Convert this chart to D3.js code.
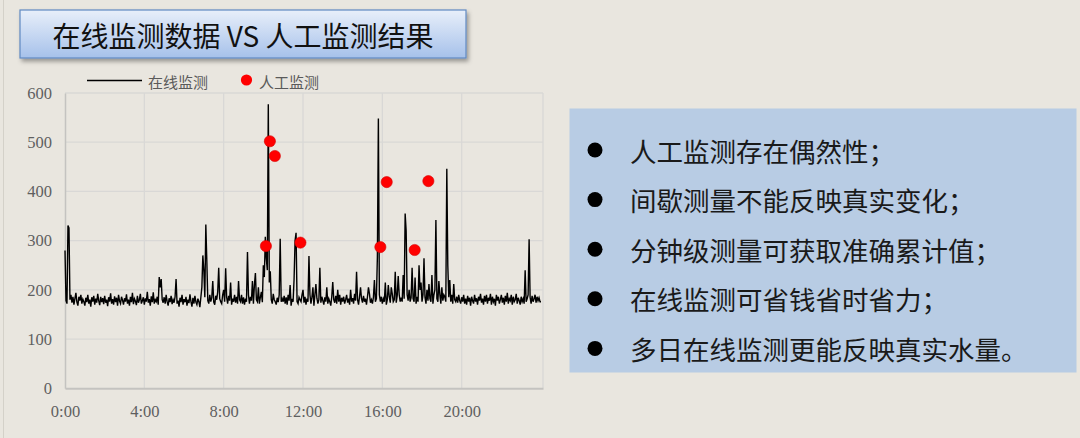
<!DOCTYPE html>
<html>
<head>
<meta charset="utf-8">
<script src="https://cdn.jsdelivr.net/npm/d3@7/dist/d3.min.js"></script>
<style>
  html, body { margin: 0; padding: 0; background: #e9e6df; }
  svg { display: block; }
</style>
</head>
<body>
<svg id="chart" width="1080" height="438"></svg>
<script>
// ---------- data ----------
const titleText = "在线监测数据 VS 人工监测结果";
const legendLabels = ["在线监测", "人工监测"];
const onlineStepHours = 0.05; // one reading every 3 minutes
const onlineValues = [
  280,178,172,331,326,180,190,174,186,170,182,194,175,168,186,178,190,172,181,176,
  168,184,175,190,172,180,166,185,176,188,170,182,174,192,178,169,186,175,183,171,
  188,174,180,167,185,176,193,172,181,170,187,175,184,168,190,177,172,186,179,170,
  183,176,191,172,180,168,186,175,194,171,182,177,169,188,174,180,192,172,178,185,
  170,183,176,196,174,181,168,187,175,195,172,180,176,186,170,226,205,222,180,174,
  185,172,190,176,168,183,175,188,171,180,174,186,222,172,178,166,184,175,190,170,
  181,175,186,168,180,173,191,176,166,184,172,188,175,170,182,176,165,185,205,270,
  240,185,333,260,178,172,190,176,184,218,175,170,188,180,196,245,182,176,172,190,
  200,176,244,185,172,188,178,215,170,182,176,190,174,186,172,218,180,176,190,172,
  185,170,182,176,277,190,172,186,178,218,172,210,234,180,176,205,172,185,196,175,
  250,226,308,264,240,577,215,238,180,172,192,180,176,170,184,175,190,304,176,182,
  176,188,172,185,170,190,178,210,168,182,176,222,300,316,176,172,185,180,176,190,
  200,174,186,170,182,176,269,190,172,185,205,168,190,212,183,172,180,245,174,186,
  178,170,185,176,205,172,182,176,168,186,216,180,174,188,172,200,176,190,170,184,
  176,186,172,180,190,174,182,170,200,176,183,172,192,178,237,180,170,186,205,182,
  174,188,176,182,170,186,205,192,174,180,172,185,220,176,182,267,548,190,176,186,
  172,182,176,215,170,180,210,186,174,205,192,176,180,237,174,188,228,190,176,184,
  176,230,182,355,320,190,178,200,176,184,245,182,176,225,172,186,176,250,200,215,
  176,190,264,185,172,200,178,212,182,176,230,172,190,200,342,182,176,218,190,172,
  205,178,190,186,176,446,250,185,220,176,190,172,212,180,176,186,174,190,178,172,
  185,176,190,172,182,170,188,176,184,168,186,178,172,190,176,183,170,186,178,192,
  174,182,170,188,176,190,172,184,178,192,170,186,176,182,168,190,178,186,172,180,
  190,174,184,170,188,176,194,172,182,178,190,170,186,176,180,192,172,184,178,170,
  186,176,182,172,240,176,182,190,303,185,172,188,176,182,190,174,186,178,184,176,
  176
];
const manualTimes  = [10.13, 10.33, 10.58, 11.87, 15.9, 16.22, 17.63, 18.32];
const manualValues = [289, 502, 472, 296, 287, 419, 281, 421];
const xTickHours  = [0, 4, 8, 12, 16, 20];
const xTickLabels = ["0:00", "4:00", "8:00", "12:00", "16:00", "20:00"];
const yTicks = [0, 100, 200, 300, 400, 500, 600];
const bulletLines = [
  "人工监测存在偶然性；",
  "间歇测量不能反映真实变化；",
  "分钟级测量可获取准确累计值；",
  "在线监测可省钱省时省力；",
  "多日在线监测更能反映真实水量。"
];

// ---------- drawing ----------
const svg = d3.select("#chart");
const defs = svg.append("defs");

const grad = defs.append("linearGradient").attr("id", "titleGrad")
  .attr("x1", 0).attr("y1", 0).attr("x2", 0).attr("y2", 1);
grad.append("stop").attr("offset", "0%").attr("stop-color", "#e8effa");
grad.append("stop").attr("offset", "100%").attr("stop-color", "#a6c1ea");

const shadow = defs.append("filter").attr("id", "shadow")
  .attr("x", "-5%").attr("y", "-20%").attr("width", "115%").attr("height", "150%");
shadow.append("feDropShadow").attr("dx", 2).attr("dy", 3).attr("stdDeviation", 2)
  .attr("flood-color", "#000").attr("flood-opacity", 0.35);

// left slide edge
svg.append("line").attr("x1", 3.5).attr("x2", 3.5).attr("y1", 0).attr("y2", 438)
  .attr("stroke", "#d4d1c9").attr("stroke-width", 1);

// title box
svg.append("rect").attr("x", 20).attr("y", 10).attr("width", 446).attr("height", 48)
  .attr("fill", "url(#titleGrad)").attr("stroke", "#5f89c2").attr("stroke-width", 1.2)
  .attr("filter", "url(#shadow)");
svg.append("text").attr("x", 243).attr("y", 35)
  .attr("text-anchor", "middle").attr("dominant-baseline", "central")
  .style("font-family", "'Noto Sans CJK SC', 'Noto Sans', sans-serif")
  .attr("font-size", 28).attr("fill", "#111").text(titleText);

// scales
const x = d3.scaleLinear().domain([0, 24.1]).range([65, 543]);
const y = d3.scaleLinear().domain([0, 600]).range([388.3, 93]);

// grid
const grid = svg.append("g");
grid.selectAll("line.h").data(yTicks.filter(d => d > 0)).join("line")
  .attr("x1", x(0)).attr("x2", x(24.1))
  .attr("y1", d => y(d)).attr("y2", d => y(d))
  .attr("stroke", "#d9d8d6").attr("stroke-width", 1.3);
grid.selectAll("line.v").data(xTickHours.filter(d => d > 0).concat([24.1])).join("line")
  .attr("x1", d => x(d)).attr("x2", d => x(d))
  .attr("y1", y(0)).attr("y2", y(600))
  .attr("stroke", "#d9d8d6").attr("stroke-width", 1.3);

// axes
const yAxis = svg.append("g").attr("transform", `translate(${x(0)},0)`)
  .call(d3.axisLeft(y).tickValues(yTicks).tickSize(0).tickPadding(13));
yAxis.select(".domain").attr("stroke", "#c4c3c0").attr("stroke-width", 1.5);
yAxis.selectAll("text").style("font-family", "'Liberation Serif', 'DejaVu Serif', serif")
  .style("font-size", "16.5px").attr("fill", "#5f5f5f");

const xAxis = svg.append("g").attr("transform", `translate(0,${y(0)})`)
  .call(d3.axisBottom(x).tickValues(xTickHours).tickFormat((d, i) => xTickLabels[i])
    .tickSize(0).tickPadding(17));
xAxis.select(".domain").attr("stroke", "#c4c3c0").attr("stroke-width", 2);
xAxis.selectAll("text").style("font-family", "'Liberation Serif', 'DejaVu Serif', serif")
  .style("font-size", "16.5px").attr("fill", "#5f5f5f");

// online line
const line = d3.line().x((d, i) => x(i * onlineStepHours)).y(d => y(d));
svg.append("path").datum(onlineValues).attr("d", line)
  .attr("fill", "none").attr("stroke", "#000").attr("stroke-width", 1.4)
  .attr("stroke-linejoin", "miter");

// manual points
svg.append("g").selectAll("circle").data(manualValues).join("circle")
  .attr("cx", (d, i) => x(manualTimes[i])).attr("cy", d => y(d)).attr("r", 5.6)
  .attr("fill", "#ff0000").attr("stroke", "#d80000").attr("stroke-width", 0.6);

// legend
const lg = svg.append("g").style("font-family", "'Noto Sans CJK SC', sans-serif")
  .style("font-size", "15px").attr("fill", "#5a5a5a");
lg.append("line").attr("x1", 87).attr("x2", 142).attr("y1", 80.5).attr("y2", 80.5)
  .attr("stroke", "#000").attr("stroke-width", 1.5);
lg.append("text").attr("x", 148).attr("y", 81).attr("dominant-baseline", "central").text(legendLabels[0]);
lg.append("circle").attr("cx", 246.5).attr("cy", 80).attr("r", 5.6).attr("fill", "#ff0000");
lg.append("text").attr("x", 259).attr("y", 81).attr("dominant-baseline", "central").text(legendLabels[1]);

// right text box
svg.append("rect").attr("x", 569.5).attr("y", 108.5).attr("width", 507).attr("height", 264)
  .attr("fill", "#b8cce4");
const bl = svg.append("g");
bl.selectAll("circle").data(bulletLines).join("circle")
  .attr("cx", 595).attr("cy", (d, i) => 150 + i * 49.6).attr("r", 7.5).attr("fill", "#000");
bl.selectAll("text").data(bulletLines).join("text")
  .attr("x", 630).attr("y", (d, i) => 150 + i * 49.6)
  .attr("dominant-baseline", "central")
  .style("font-family", "'Noto Sans CJK SC', sans-serif")
  .style("font-size", "26.5px").attr("fill", "#1a1a1a").text(d => d);
</script>
</body>
</html>
